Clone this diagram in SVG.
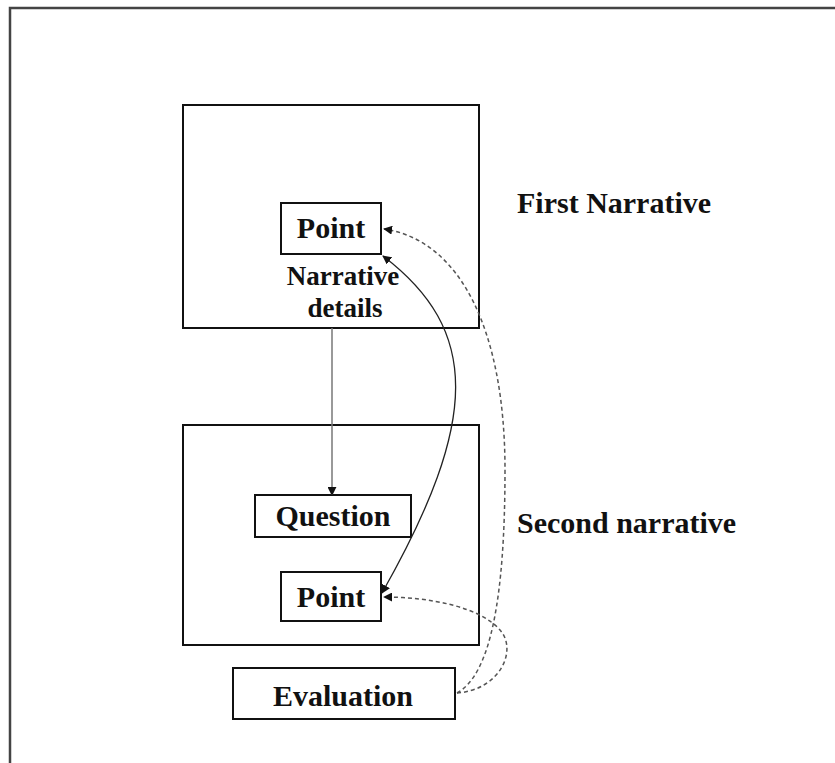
<svg xmlns="http://www.w3.org/2000/svg" width="835" height="763" viewBox="0 0 835 763">
<defs>
<style>
.box{fill:#fff;stroke:#111;stroke-width:2}
.lbl{font-family:"Liberation Serif","Times New Roman",serif;font-weight:bold;font-size:30px;fill:#111;text-anchor:middle}
.side{font-family:"Liberation Serif","Times New Roman",serif;font-weight:bold;font-size:30px;fill:#111}
.solid{fill:none;stroke:#222;stroke-width:1.3}
.dash{fill:none;stroke:#555;stroke-width:1.5;stroke-dasharray:4 3}
</style>
<marker id="ah" viewBox="0 0 10 10" refX="9" refY="5" markerWidth="9" markerHeight="9" markerUnits="userSpaceOnUse" orient="auto-start-reverse">
<path d="M0,0 L10,5 L0,10 z" fill="#111"/>
</marker>
</defs>
<rect x="10" y="8" width="840" height="770" fill="#fff" stroke="#444" stroke-width="2.5"/>
<g id="first-narrative">
<rect class="box" x="183" y="105" width="296" height="223"/>
</g>
<g id="second-narrative">
<rect class="box" x="183" y="425" width="296" height="220"/>
</g>
<g id="point1">
<rect class="box" x="281" y="203" width="100" height="51"/>
<text class="lbl" x="331" y="238">Point</text>
</g>
<g id="narrative-details">
<text class="lbl" x="343" y="285" font-size="27" style="font-size:27px">Narrative</text>
<text class="lbl" x="345" y="317" style="font-size:27px">details</text>
</g>
<g id="question">
<rect class="box" x="255" y="495" width="156" height="42"/>
<text class="lbl" x="333" y="526">Question</text>
</g>
<g id="point2">
<rect class="box" x="281" y="572" width="100" height="49"/>
<text class="lbl" x="331" y="607">Point</text>
</g>
<g id="evaluation">
<rect class="box" x="233" y="668" width="222" height="51"/>
<text class="lbl" x="343" y="706">Evaluation</text>
</g>
<g id="labels">
<text class="side" x="517" y="213">First Narrative</text>
<text class="side" x="517" y="533">Second narrative</text>
</g>
<g id="connectors">
<line x1="332" y1="328" x2="332" y2="495" stroke="#777" stroke-width="1.5" marker-end="url(#ah)"/>
<path class="solid" d="M383,256 C480,330 480,420 382,593" marker-start="url(#ah)" marker-end="url(#ah)"/>
<path class="dash" d="M457,693 C490,675 505,600 505,470 C505,330 460,240 384,229" marker-end="url(#ah)"/>
<path class="dash" d="M457,693 C500,690 518,650 500,630 C480,607 430,597 384,597" marker-end="url(#ah)"/>
</g>
</svg>
